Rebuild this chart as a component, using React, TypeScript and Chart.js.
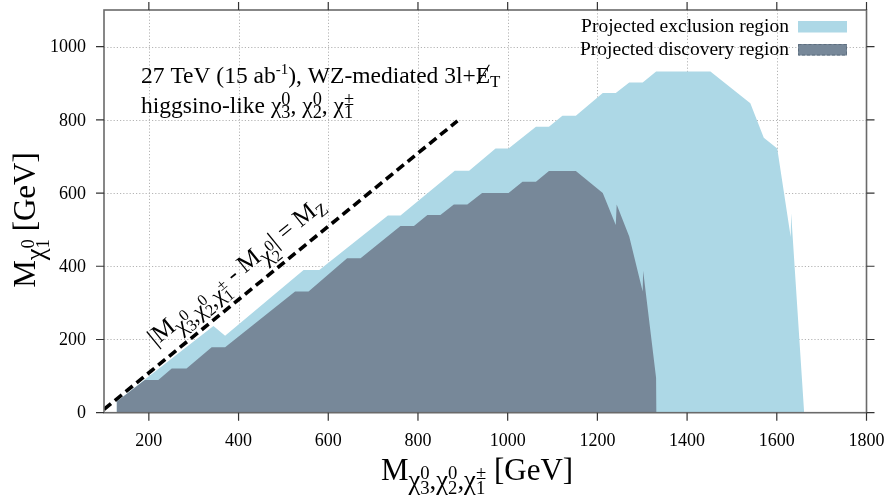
import React, { useEffect, useRef } from "react";
import { Chart, registerables } from "chart.js";

Chart.register(...registerables);

// Projected exclusion contour (upper boundary), GeV
const exclusionX = [128, 128, 191, 344, 370, 545, 580, 733, 761, 882, 914, 973, 1002, 1063, 1092, 1122, 1152, 1212, 1241, 1271, 1301, 1331, 1452, 1541, 1571, 1601, 1631, 1632, 1661];
const exclusionY = [0, 30, 91, 237, 210, 390, 390, 539, 539, 661, 661, 722, 722, 781, 781, 811, 811, 873, 873, 902, 902, 932, 932, 845, 751, 722, 480, 545, 0];

// Projected discovery contour (upper boundary), GeV
const discoveryX = [128, 128, 191, 221, 251, 284, 340, 370, 526, 556, 642, 672, 761, 791, 821, 850, 880, 910, 943, 1002, 1033, 1063, 1092, 1152, 1212, 1241, 1243, 1271, 1301, 1302, 1331, 1332];
const discoveryY = [0, 30, 89, 89, 121, 121, 179, 179, 331, 331, 422, 422, 510, 510, 540, 540, 569, 569, 600, 600, 631, 631, 660, 660, 600, 513, 569, 481, 331, 388, 94, 0];

// |M(chi3,chi2,chi1) - M(chi2)| = M_Z boundary
const mzLineX = [100, 888];
const mzLineY = [9, 797];

const xTicks = [200, 400, 600, 800, 1000, 1200, 1400, 1600, 1800];
const yTicks = [0, 200, 400, 600, 800, 1000];

const legendLabels = ["Projected exclusion region", "Projected discovery region"];
const exclusionColor = "#add8e6";
const discoveryColor = "#778899";

const SERIF = '"Liberation Serif", "Times New Roman", serif';
const font = (px: number) => `${px}px ${SERIF}`;

type TextPiece = { t: string; s?: number; dy?: number; slash?: boolean };
type StackPiece = { up: string; dn: string; s: number; upDy: number; dnDy: number };
type Piece = TextPiece | StackPiece;

// chi with stacked lower/upper indices, optionally itself lowered as a subscript
const chi = (dn: string, up: string, s = 1, dy = 0, k = 0.66): Piece[] => [
  { t: "χ", s, dy },
  { up, dn, s: s * k, upDy: dy - 0.36 * s, dnDy: dy + 0.2 * s },
];

function pieceWidth(ctx: CanvasRenderingContext2D, p: Piece, base: number) {
  if ("t" in p) {
    ctx.font = font(base * (p.s ?? 1));
    return ctx.measureText(p.t).width;
  }
  ctx.font = font(base * p.s);
  return Math.max(ctx.measureText(p.up).width, ctx.measureText(p.dn).width);
}

function drawRich(
  ctx: CanvasRenderingContext2D,
  pieces: Piece[],
  x: number,
  y: number,
  base: number,
  align: "left" | "center" | "right"
) {
  ctx.save();
  ctx.textAlign = "left";
  ctx.textBaseline = "alphabetic";
  ctx.fillStyle = "#000";
  const total = pieces.reduce((a, p) => a + pieceWidth(ctx, p, base), 0);
  let cx = align === "center" ? x - total / 2 : align === "right" ? x - total : x;
  for (const p of pieces) {
    const w = pieceWidth(ctx, p, base);
    if ("t" in p) {
      ctx.font = font(base * (p.s ?? 1));
      const by = y + (p.dy ?? 0) * base;
      ctx.fillText(p.t, cx, by);
      if (p.slash) {
        ctx.beginPath();
        ctx.lineWidth = 1.1;
        ctx.strokeStyle = "#000";
        ctx.moveTo(cx + w * 0.1, by + base * 0.04);
        ctx.lineTo(cx + w * 0.95, by - base * 0.78);
        ctx.stroke();
      }
    } else {
      ctx.font = font(base * p.s);
      ctx.fillText(p.up, cx, y + p.upDy * base);
      ctx.fillText(p.dn, cx, y + p.dnDy * base);
    }
    cx += w;
  }
  ctx.restore();
}

const line1: Piece[] = [
  { t: "27 TeV (15 ab" },
  { t: "-1", s: 0.64, dy: -0.4 },
  { t: "), WZ-mediated 3l+" },
  { t: "E", slash: true },
  { t: "T", s: 0.72, dy: 0.18 },
];

const line2: Piece[] = [
  { t: "higgsino-like " },
  ...chi("3", "0", 1, 0, 0.78),
  { t: ", " },
  ...chi("2", "0", 1, 0, 0.78),
  { t: ", " },
  ...chi("1", "±", 1, 0, 0.78),
];

const subChi = (dn: string, up: string, s = 0.86) => chi(dn, up, s, 0.28, 0.7);

const boundaryLabel: Piece[] = [
  { t: "|M" },
  ...subChi("3", "0", 0.92),
  { t: ",", s: 0.92, dy: 0.28 },
  ...subChi("2", "0", 0.92),
  { t: ",", s: 0.92, dy: 0.28 },
  ...subChi("1", "±", 0.92),
  { t: " - M" },
  ...subChi("2", "0", 0.92),
  { t: "| = M" },
  { t: "Z", s: 0.7, dy: 0.2 },
];

const xTitle: Piece[] = [
  { t: "M" },
  ...subChi("3", "0"),
  { t: ",", s: 0.86, dy: 0.28 },
  ...subChi("2", "0"),
  { t: ",", s: 0.86, dy: 0.28 },
  ...subChi("1", "±"),
  { t: " [GeV]" },
];

const yTitle: Piece[] = [{ t: "M" }, ...subChi("1", "0"), { t: " [GeV]" }];

const framePlugin = {
  id: "frame",
  beforeDatasetsDraw(chart: Chart) {
    const { ctx, chartArea: a, scales } = chart;
    const xs = scales.x;
    const ys = scales.y;
    ctx.save();
    ctx.strokeStyle = "#b4b4b4";
    ctx.lineWidth = 1;
    ctx.setLineDash([1.2, 2]);
    for (const v of xTicks) {
      const px = Math.round(xs.getPixelForValue(v)) + 0.5;
      if (px >= a.right - 1) continue;
      ctx.beginPath();
      ctx.moveTo(px, a.top);
      ctx.lineTo(px, a.bottom);
      ctx.stroke();
    }
    for (const v of yTicks) {
      const py = Math.round(ys.getPixelForValue(v)) + 0.5;
      if (py >= a.bottom - 1) continue;
      ctx.beginPath();
      ctx.moveTo(a.left, py);
      ctx.lineTo(a.right, py);
      ctx.stroke();
    }
    ctx.restore();
  },
  afterDatasetsDraw(chart: Chart) {
    const { ctx, chartArea: a, scales } = chart;
    const xs = scales.x;
    const ys = scales.y;
    ctx.save();
    // frame
    ctx.strokeStyle = "#6a6a6a";
    ctx.lineWidth = 1.6;
    ctx.strokeRect(a.left, a.top, a.right - a.left, a.bottom - a.top);
    // outward ticks on all four sides
    const tl = 8;
    ctx.strokeStyle = "#333";
    ctx.lineWidth = 1.2;
    for (const v of xTicks) {
      const px = xs.getPixelForValue(v);
      ctx.beginPath();
      ctx.moveTo(px, a.bottom);
      ctx.lineTo(px, a.bottom + tl);
      ctx.moveTo(px, a.top);
      ctx.lineTo(px, a.top - tl);
      ctx.stroke();
    }
    for (const v of yTicks) {
      const py = ys.getPixelForValue(v);
      ctx.beginPath();
      ctx.moveTo(a.left, py);
      ctx.lineTo(a.left - tl, py);
      ctx.moveTo(a.right, py);
      ctx.lineTo(a.right + tl, py);
      ctx.stroke();
    }
    // tick labels
    ctx.fillStyle = "#000";
    ctx.font = font(18);
    ctx.textAlign = "center";
    ctx.textBaseline = "middle";
    for (const v of xTicks) {
      ctx.fillText(String(v), xs.getPixelForValue(v), 441);
    }
    ctx.textAlign = "right";
    for (const v of yTicks) {
      ctx.fillText(String(v), 86, ys.getPixelForValue(v) + 1);
    }

    // axis titles
    drawRich(ctx, xTitle, 477, 480, 31, "center");
    ctx.save();
    ctx.translate(35, 220);
    ctx.rotate(-Math.PI / 2);
    drawRich(ctx, yTitle, 0, 0, 31, "center");
    ctx.restore();

    // legend
    const legendY = [31.5, 54.5];
    const swatchX = 798;
    const swatchW = 49;
    const swatchH = 11.5;
    legendLabels.forEach((label, i) => {
      ctx.font = font(19.5);
      ctx.textAlign = "right";
      ctx.textBaseline = "alphabetic";
      ctx.fillStyle = "#000";
      ctx.fillText(label, 789, legendY[i]);
      ctx.fillStyle = i === 0 ? exclusionColor : discoveryColor;
      ctx.fillRect(swatchX, legendY[i] - swatchH + 1, swatchW, swatchH);
      if (i === 1) {
        ctx.save();
        ctx.strokeStyle = "#5e6e7e";
        ctx.lineWidth = 1;
        ctx.setLineDash([3, 2]);
        ctx.strokeRect(swatchX + 0.5, legendY[i] - swatchH + 1.5, swatchW - 1, swatchH - 1);
        ctx.restore();
      }
    });

    // process annotation
    drawRich(ctx, line1, 141, 83, 23.5, "left");
    drawRich(ctx, line2, 141, 113, 23.5, "left");

    // label along the M_Z line
    const p0x = xs.getPixelForValue(mzLineX[0]);
    const p0y = ys.getPixelForValue(mzLineY[0]);
    const p1x = xs.getPixelForValue(mzLineX[1]);
    const p1y = ys.getPixelForValue(mzLineY[1]);
    const ang = Math.atan2(p1y - p0y, p1x - p0x);
    const ax = xs.getPixelForValue(238);
    const ay = ys.getPixelForValue(238 - 91);
    ctx.save();
    ctx.translate(ax, ay);
    ctx.rotate(ang);
    drawRich(ctx, boundaryLabel, 0, -16, 25, "left");
    ctx.restore();

    ctx.restore();
  },
};

export default function App() {
  const canvasRef = useRef<HTMLCanvasElement | null>(null);

  useEffect(() => {
    const canvas = canvasRef.current;
    if (!canvas) return;
    const toPoints = (xs: number[], ys: number[]) => xs.map((x, i) => ({ x, y: ys[i] }));
    const chart = new Chart(canvas, {
      type: "line",
      data: {
        datasets: [
          {
            label: legendLabels[0],
            data: toPoints(exclusionX, exclusionY),
            backgroundColor: exclusionColor,
            borderColor: exclusionColor,
            borderWidth: 0,
            pointRadius: 0,
            tension: 0,
            fill: "origin",
            order: 3,
          },
          {
            label: legendLabels[1],
            data: toPoints(discoveryX, discoveryY),
            backgroundColor: discoveryColor,
            borderColor: discoveryColor,
            borderWidth: 0,
            pointRadius: 0,
            tension: 0,
            fill: "origin",
            order: 2,
          },
          {
            label: "M_Z",
            data: toPoints(mzLineX, mzLineY),
            borderColor: "#000",
            borderWidth: 3.6,
            borderDash: [9, 5],
            pointRadius: 0,
            fill: false,
            order: 1,
          },
        ],
      },
      options: {
        responsive: false,
        animation: false,
        events: [],
        layout: { padding: { left: 104, right: 24.5, top: 10, bottom: 88.3 } },
        plugins: { legend: { display: false }, tooltip: { enabled: false } },
        scales: {
          x: { type: "linear", min: 100, max: 1800, display: false },
          y: { type: "linear", min: 0, max: 1100, display: false },
        },
      },
      plugins: [framePlugin],
    });
    return () => chart.destroy();
  }, []);

  return (
    <div style={{ position: "fixed", left: 0, top: 0, width: 891, height: 501, background: "#fff" }}>
      <canvas ref={canvasRef} width={891} height={501} style={{ display: "block" }} />
    </div>
  );
}
